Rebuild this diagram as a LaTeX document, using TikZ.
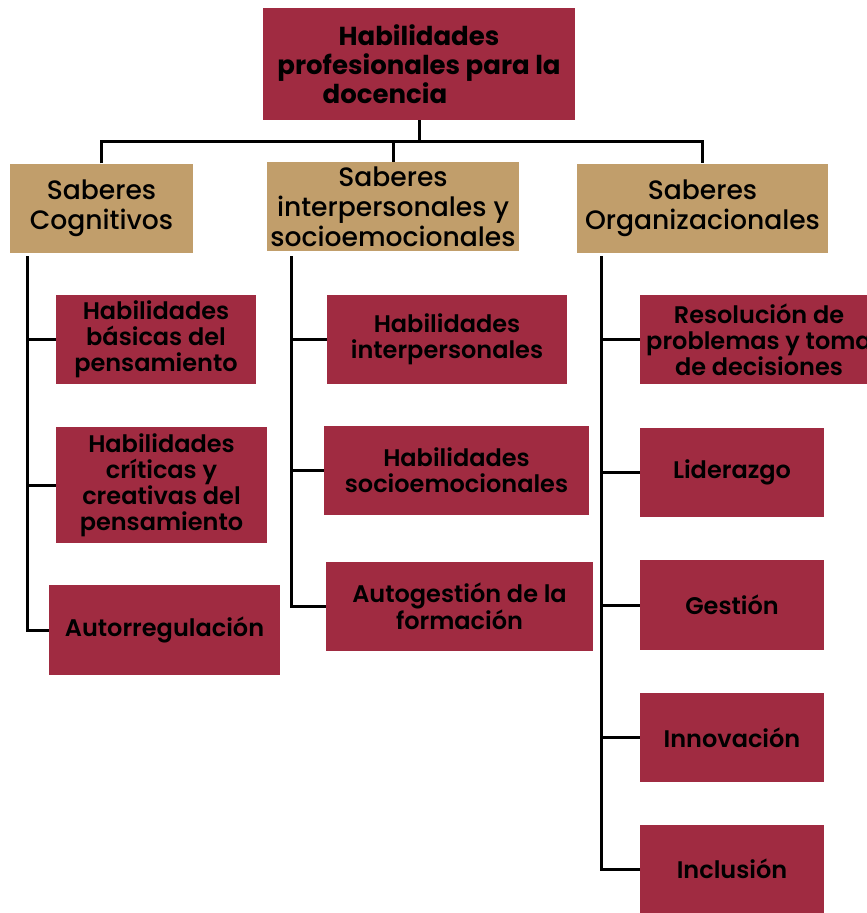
\documentclass[tikz,border=0pt]{standalone}
\usepackage{fontspec}
\setmainfont{Poppins}
\IfFontExistsTF{Poppins SemiBold}{\newfontfamily\semib{Poppins SemiBold}}{\newfontfamily\semib{Poppins}[FakeBold=1.2]}
\IfFontExistsTF{Poppins Medium}{\newfontfamily\medf{Poppins Medium}}{\newfontfamily\medf{Poppins}[FakeBold=0.6]}
\definecolor{maroon}{RGB}{160,43,65}
\definecolor{tan}{RGB}{193,158,107}
\tikzset{
  box/.style={rectangle, inner sep=0pt, align=center, text=black},
  topbox/.style={box, fill=maroon, font=\fontsize{26}{29}\selectfont\bfseries},
  midbox/.style={box, fill=tan, font=\medf\fontsize{26.6}{30}\selectfont},
  leafbox/.style={box, fill=maroon, font=\semib\fontsize{24}{26}\selectfont},
  conn/.style={line width=3pt, draw=black}
}
\begin{document}
\begin{tikzpicture}[x=1pt,y=-1pt]
\useasboundingbox (0,0) rectangle (867,913);
\node[topbox, minimum width=312pt, minimum height=112pt] (top) at (419,64) {Habilidades\\profesionales para la\\docencia\hspace*{68pt}};
\node[midbox, minimum width=183pt, minimum height=89pt] (SC) at (101.5,208) {Saberes\\Cognitivos};
\node[midbox, minimum width=252pt, minimum height=89pt, text depth=0pt] (SI) at (393,206.5) {Saberes\\interpersonales y\\socioemocionales};
\node[midbox, minimum width=251pt, minimum height=89pt] (SO) at (702.5,208) {Saberes\\Organizacionales};

\node[leafbox, minimum width=200pt, minimum height=89pt] (L1) at (156,339.5) {Habilidades\\básicas del\\pensamiento};
\node[leafbox, minimum width=211pt, minimum height=116pt] (L2) at (161.5,485) {Habilidades\\críticas y\\creativas del\\pensamiento};
\node[leafbox, minimum width=231pt, minimum height=90pt] (L3) at (164.5,630) {Autorregulación};

\node[leafbox, minimum width=240pt, minimum height=89pt] (M1) at (447,339.5) {Habilidades\\interpersonales};
\node[leafbox, minimum width=265pt, minimum height=89pt] (M2) at (456.5,470.5) {Habilidades\\socioemocionales};
\node[leafbox, minimum width=267pt, minimum height=89pt] (M3) at (459.5,606.5) {Autogestión de la\\formación};

\node[leafbox, minimum width=238pt, minimum height=89pt] (R1) at (759,339.5) {Resolución de\\problemas y toma\\de decisiones};
\node[leafbox, minimum width=184pt, minimum height=89pt] (R2) at (732,472.5) {Liderazgo};
\node[leafbox, minimum width=184pt, minimum height=90pt] (R3) at (732,605) {Gestión};
\node[leafbox, minimum width=184pt, minimum height=89pt] (R4) at (732,737.5) {Innovación};
\node[leafbox, minimum width=184pt, minimum height=88pt] (R5) at (732,869) {Inclusión};

% top connectors
\coordinate (hub) at (419,141);
\draw[conn] (top.south) -- (hub);
\draw[conn] (SC.north) |- (SO.north |- hub) -- (SO.north);
\draw[conn] (SI.north) -- (SI.north |- hub);

% left column
\coordinate (cL) at (27,256);
\draw[conn] (cL) |- (L3.west);
\draw[conn] (cL |- L1.west) -- (L1.west);
\draw[conn] (cL |- L2.west) -- (L2.west);

% middle column
\coordinate (cM) at (291,256);
\draw[conn] (cM) |- (M3.west);
\draw[conn] (cM |- M1.west) -- (M1.west);
\draw[conn] (cM |- M2.west) -- (M2.west);

% right column
\coordinate (cR) at (601,256);
\draw[conn] (cR) |- (R5.west);
\draw[conn] (cR |- R1.west) -- (R1.west);
\draw[conn] (cR |- R2.west) -- (R2.west);
\draw[conn] (cR |- R3.west) -- (R3.west);
\draw[conn] (cR |- R4.west) -- (R4.west);
\end{tikzpicture}
\end{document}
